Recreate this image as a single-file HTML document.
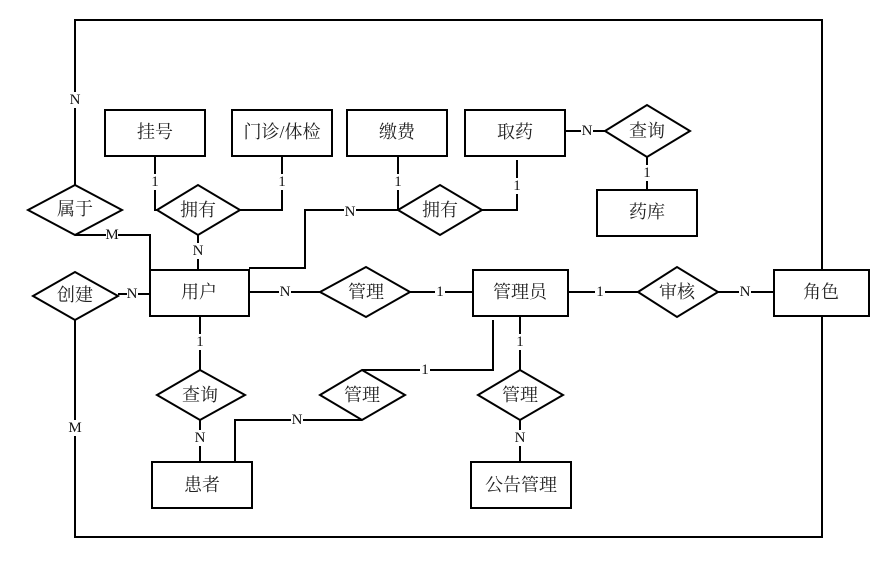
<!DOCTYPE html>
<html><head><meta charset="utf-8"><style>
html,body{margin:0;padding:0;background:#fff;}
svg{display:block;}
.c{font-family:"Liberation Serif","Noto Serif CJK SC","Noto Sans CJK SC",serif;font-size:18px;fill:#222;text-anchor:middle;dominant-baseline:central;}
.l{font-family:"Liberation Serif",serif;font-size:15px;fill:#111;text-anchor:middle;dominant-baseline:central;}
.lb{fill:#fff;stroke:none;}
</style></head><body>
<svg width="878" height="573" viewBox="0 0 878 573" xmlns="http://www.w3.org/2000/svg">
<g fill="none" stroke="#000" stroke-width="2">
<!-- outer -->
<polyline points="75,185 75,20 822,20 822,270"/>
<polyline points="822,316 822,537 75,537 75,320"/>
<!-- 属于 -->
<polyline points="75,235 150,235 150,270"/>
<line x1="118" y1="294" x2="150" y2="294"/>
<!-- 挂号/门诊 拥有 -->
<polyline points="155,156 155,210 157,210"/>
<polyline points="282,156 282,210 240,210"/>
<line x1="198" y1="235" x2="198" y2="270"/>
<!-- 缴费/取药 拥有 -->
<line x1="398" y1="156" x2="398" y2="210"/>
<polyline points="517,160 517,210 482,210"/>
<polyline points="398,210 305,210 305,268 249,268"/>
<!-- 取药 查询 药库 -->
<line x1="565" y1="131" x2="605" y2="131"/>
<line x1="647" y1="157" x2="647" y2="190"/>
<!-- middle row -->
<line x1="249" y1="292" x2="320" y2="292"/>
<line x1="410" y1="292" x2="473" y2="292"/>
<line x1="568" y1="292" x2="638" y2="292"/>
<line x1="718" y1="292" x2="774" y2="292"/>
<!-- lower -->
<line x1="200" y1="316" x2="200" y2="370"/>
<line x1="200" y1="420" x2="200" y2="462"/>
<polyline points="362,370 493,370 493,320"/>
<polyline points="362,420 235,420 235,462"/>
<line x1="520" y1="316" x2="520" y2="370"/>
<line x1="520" y1="420" x2="520" y2="462"/>
<!-- rects -->
<rect x="105" y="110" width="100" height="46" fill="#fff"/>
<rect x="232" y="110" width="100" height="46" fill="#fff"/>
<rect x="347" y="110" width="100" height="46" fill="#fff"/>
<rect x="465" y="110" width="100" height="46" fill="#fff"/>
<rect x="597" y="190" width="100" height="46" fill="#fff"/>
<rect x="150" y="270" width="99" height="46" fill="#fff"/>
<rect x="473" y="270" width="95" height="46" fill="#fff"/>
<rect x="774" y="270" width="95" height="46" fill="#fff"/>
<rect x="152" y="462" width="100" height="46" fill="#fff"/>
<rect x="471" y="462" width="100" height="46" fill="#fff"/>
<!-- diamonds -->
<polygon points="28,210 75,185 122,210 75,235" fill="#fff"/>
<polygon points="33,296 75,272 118,296 75,320" fill="#fff"/>
<polygon points="157,210 198,185 240,210 198,235" fill="#fff"/>
<polygon points="398,210 440,185 482,210 440,235" fill="#fff"/>
<polygon points="605,131 647,105 690,131 647,157" fill="#fff"/>
<polygon points="320,292 366,267 410,292 366,317" fill="#fff"/>
<polygon points="638,292 677,267 718,292 677,317" fill="#fff"/>
<polygon points="157,395 200,370 245,395 200,420" fill="#fff"/>
<polygon points="320,395 362,370 405,395 362,420" fill="#fff"/>
<polygon points="478,395 520,370 563,395 520,420" fill="#fff"/>
</g>
<!-- cardinality labels -->
<g>
<rect class="lb" x="69" y="92" width="12" height="16"/><text class="l" x="75" y="100">N</text>
<rect class="lb" x="106" y="227" width="12" height="16"/><text class="l" x="112" y="235">M</text>
<rect class="lb" x="127" y="286" width="11" height="16"/><text class="l" x="132" y="294">N</text>
<rect class="lb" x="69" y="420" width="12" height="16"/><text class="l" x="75" y="428">M</text>
<rect class="lb" x="150" y="174" width="10" height="16"/><text class="l" x="155" y="182">1</text>
<rect class="lb" x="277" y="174" width="10" height="16"/><text class="l" x="282" y="182">1</text>
<rect class="lb" x="193" y="243" width="11" height="16"/><text class="l" x="198" y="251">N</text>
<rect class="lb" x="393" y="174" width="10" height="16"/><text class="l" x="398" y="182">1</text>
<rect class="lb" x="512" y="178" width="10" height="16"/><text class="l" x="517" y="186">1</text>
<rect class="lb" x="344" y="204" width="12" height="16"/><text class="l" x="350" y="212">N</text>
<rect class="lb" x="581" y="123" width="12" height="16"/><text class="l" x="587" y="131">N</text>
<rect class="lb" x="642" y="165" width="10" height="16"/><text class="l" x="647" y="173">1</text>
<rect class="lb" x="279" y="284" width="12" height="16"/><text class="l" x="285" y="292">N</text>
<rect class="lb" x="435" y="284" width="10" height="16"/><text class="l" x="440" y="292">1</text>
<rect class="lb" x="595" y="284" width="10" height="16"/><text class="l" x="600" y="292">1</text>
<rect class="lb" x="739" y="284" width="12" height="16"/><text class="l" x="745" y="292">N</text>
<rect class="lb" x="195" y="334" width="10" height="16"/><text class="l" x="200" y="342">1</text>
<rect class="lb" x="194" y="430" width="12" height="16"/><text class="l" x="200" y="438">N</text>
<rect class="lb" x="420" y="362" width="10" height="16"/><text class="l" x="425" y="370">1</text>
<rect class="lb" x="291" y="412" width="12" height="16"/><text class="l" x="297" y="420">N</text>
<rect class="lb" x="515" y="334" width="10" height="16"/><text class="l" x="520" y="342">1</text>
<rect class="lb" x="514" y="430" width="12" height="16"/><text class="l" x="520" y="438">N</text>
</g>
<!-- entity/relationship text -->
<g>
<text class="c" x="155" y="132">挂号</text>
<text class="c" x="282" y="132">门诊/体检</text>
<text class="c" x="397" y="132">缴费</text>
<text class="c" x="515" y="132">取药</text>
<text class="c" x="647" y="212">药库</text>
<text class="c" x="199" y="292">用户</text>
<text class="c" x="520" y="292">管理员</text>
<text class="c" x="821" y="292">角色</text>
<text class="c" x="202" y="485">患者</text>
<text class="c" x="521" y="485">公告管理</text>
<text class="c" x="75" y="209">属于</text>
<text class="c" x="75" y="295">创建</text>
<text class="c" x="198" y="210">拥有</text>
<text class="c" x="440" y="210">拥有</text>
<text class="c" x="647" y="131">查询</text>
<text class="c" x="366" y="292">管理</text>
<text class="c" x="677" y="292">审核</text>
<text class="c" x="200" y="395">查询</text>
<text class="c" x="362" y="395">管理</text>
<text class="c" x="520" y="395">管理</text>
</g>
</svg>
</body></html>
